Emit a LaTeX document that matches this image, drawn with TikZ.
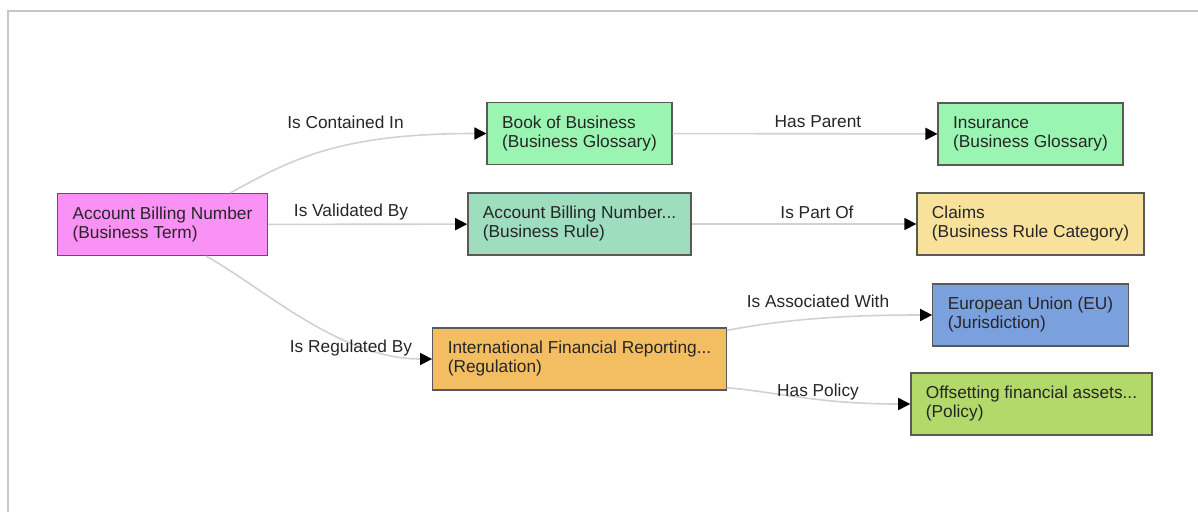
\documentclass[tikz,border=0pt]{standalone}
\usepackage{fontspec}
\setmainfont{Liberation Sans}
\usetikzlibrary{arrows.meta}

\definecolor{termpink}{RGB}{250,145,245}
\definecolor{glossgreen}{RGB}{155,245,178}
\definecolor{rulegreen}{RGB}{158,222,190}
\definecolor{catyellow}{RGB}{248,226,155}
\definecolor{regorange}{RGB}{243,189,98}
\definecolor{jurblue}{RGB}{122,160,222}
\definecolor{policygreen}{RGB}{178,217,106}

\tikzstyle{entity}=[draw=black!65,line width=1.3pt,align=left,text=black!85,inner xsep=15pt,minimum height=62pt,font=\fontsize{17.3}{19}\selectfont]
\tikzstyle{edge} = [draw=black!18,line width=1.6pt,-{Triangle[length=12pt,width=12pt,color=black]}]
\tikzstyle{rel name} = [font=\fontsize{17.3}{19}\selectfont,text=black!85,inner sep=0pt]
\tikzstyle{frame} = [draw=black!22,line width=1.5pt]

\begin{document}
\begin{tikzpicture}[x=1pt,y=-1pt]
    \useasboundingbox (0,0) rectangle (1198,512);
    \path[frame] (1198,11) -| (8,512);

     \foreach \pos/\name/\col/\txt in {{(162.5,224.5)/abnterm/termpink/{Account Billing Number\\(Business Term)}},
        {(579.5,133.5)/book/glossgreen/{Book of Business\\(Business Glossary)}},
        {(579.5,224)/abnrule/rulegreen/{Account Billing Number...\\(Business Rule)}},
        {(579.5,359)/ifr/regorange/{International Financial Reporting...\\(Regulation)}},
        {(1030.5,134)/insurance/glossgreen/{Insurance\\(Business Glossary)}},
        {(1030.5,224)/claims/catyellow/{Claims\\(Business Rule Category)}},
        {(1030.5,315)/eu/jurblue/{European Union (EU)\\(Jurisdiction)}},
        {(1031.5,404)/policy/policygreen/{Offsetting financial assets...\\(Policy)}}}
     \node[entity,fill=\col] (\name) at \pos {\txt};
     % Connect entities with relations

     \foreach \source/ \dest  in {abnterm/abnrule, book/insurance, abnrule/claims}
     \path[edge] (\source) --   (\dest);

     \path[edge] (abnterm.25) .. controls +(62,-34) and +(-147,0) .. (book.west);
     \path[edge] (abnterm.-36) .. controls +(55,30) and +(-93,0) .. (ifr.west);
     \path[edge] (ifr.11) .. controls +(64,-12) and +(-83,0) .. (eu.west);
     \path[edge] (ifr.-11) .. controls +(54,5) and +(-91,0) .. (policy.west);

     % relation names
     \foreach \pos/\name/\txt in {{(345.5,122)/lcont/Is Contained In}, {(351,212)/lvalid/Is Validated By},
        {(351,348)/lreg/Is Regulated By}, {(818,122)/lparent/Has Parent}, {(817,212)/lpart/Is Part Of},
        {(818,301)/lassoc/Is Associated With}, {(818,392)/lpolicy/Has Policy}}
     \node[rel name] (\name) at \pos {\txt};

  \end{tikzpicture}
\end{document}
